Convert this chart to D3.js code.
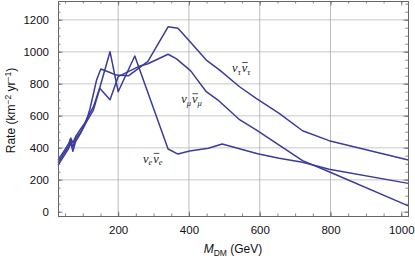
<!DOCTYPE html>
<html lang="en">
<head>
  <meta charset="UTF-8">
  <title>Rate vs M_DM</title>
  <style>
    body { margin: 0; background: #fff; }
    svg { display: block; }
  </style>
</head>
<body>
  <div id="chart"></div>
  <script src="https://d3js.org/d3.v7.min.js"></script>
  <script>
    // data
    const massE = [30, 40, 50, 60, 66, 72, 80, 95, 110, 130, 148, 177, 200, 247, 341, 369, 402, 455, 494, 594, 655, 721, 796, 1020];
    const rateE = [305, 340, 375, 410, 445, 405, 455, 500, 575, 655, 775, 1000, 750, 973, 392, 360, 379, 396, 423, 362, 334, 309, 265, 177];

    const massMu = [30, 40, 50, 60, 66, 72, 80, 95, 110, 130, 148, 177, 200, 233, 262, 284, 341, 365, 405, 449, 482, 543, 590, 721, 796, 1020];
    const rateMu = [290, 325, 360, 395, 430, 378, 440, 495, 560, 635, 771, 700, 844, 880, 911, 925, 984, 955, 880, 750, 698, 575, 511, 319, 250, 36];

    const massTau = [30, 40, 50, 60, 66, 72, 80, 95, 110, 120, 139, 151, 177, 194, 230, 284, 341, 369, 407, 449, 486, 543, 590, 655, 721, 796, 1020];
    const rateTau = [320, 355, 390, 425, 460, 430, 470, 520, 565, 640, 823, 892, 870, 854, 850, 940, 1156, 1146, 1053, 948, 886, 781, 709, 615, 506, 444, 323];

    const xTicks = [200, 400, 600, 800, 1000];
    const yTicks = [0, 200, 400, 600, 800, 1000, 1200];
    const curveLabels = ["\u03c4", "\u03bc", "e"];

    const W = 415, H = 256;
    const margin = { top: 1, right: 7, bottom: 40, left: 58 };

    const svg = d3.select("#chart").append("svg")
      .attr("width", W).attr("height", H);

    const x = d3.scaleLinear().domain([30, 1019]).range([margin.left, W - margin.right]);
    const y = d3.scaleLinear().domain([-27, 1317]).range([H - margin.bottom, margin.top]);

    const x0 = x.range()[0], x1 = x.range()[1];
    const y0 = y.range()[0], y1 = y.range()[1];

    // grid lines
    svg.append("g").selectAll("line")
      .data(yTicks.filter(d => d > 0))
      .join("line")
      .attr("x1", x0).attr("x2", x1)
      .attr("y1", d => y(d)).attr("y2", d => y(d))
      .attr("stroke", "#dadada").attr("stroke-width", 1.4);

    svg.append("g").selectAll("line")
      .data(xTicks.filter(d => d < 1000))
      .join("line")
      .attr("y1", y0).attr("y2", y1)
      .attr("x1", d => x(d)).attr("x2", d => x(d))
      .attr("stroke", "#b4b4b4").attr("stroke-width", 0.9);

    // curves
    const line = d3.line().x(d => x(d[0])).y(d => y(d[1]));
    const series = [
      d3.zip(massE, rateE),
      d3.zip(massMu, rateMu),
      d3.zip(massTau, rateTau)
    ];
    svg.append("g").selectAll("path")
      .data(series)
      .join("path")
      .attr("d", line)
      .attr("fill", "none")
      .attr("stroke", "#3b3b9c")
      .attr("stroke-width", 1.5)
      .attr("stroke-linejoin", "round");

    // frame with inward ticks on all sides
    const frame = "#666";
    const xMinor = d3.range(50, 1019, 50);
    const yMinor = d3.range(0, 1317, 50);
    const fmt = d3.format("d");

    svg.append("g")
      .attr("transform", `translate(0,${y0})`)
      .call(d3.axisBottom(x).tickValues(xMinor).tickSizeInner(-2.5).tickSizeOuter(0).tickFormat(""));
    svg.append("g")
      .attr("transform", `translate(0,${y0})`)
      .call(d3.axisBottom(x).tickValues(xTicks).tickSizeInner(-4.5).tickSizeOuter(0).tickPadding(10).tickFormat(fmt));
    svg.append("g")
      .attr("transform", `translate(0,${y1})`)
      .call(d3.axisTop(x).tickValues(xMinor).tickSizeInner(-2.5).tickSizeOuter(0).tickFormat(""));
    svg.append("g")
      .attr("transform", `translate(0,${y1})`)
      .call(d3.axisTop(x).tickValues(xTicks).tickSizeInner(-4.5).tickSizeOuter(0).tickFormat(""));

    svg.append("g")
      .attr("transform", `translate(${x0},0)`)
      .call(d3.axisLeft(y).tickValues(yMinor).tickSizeInner(-2.5).tickSizeOuter(0).tickFormat(""));
    svg.append("g")
      .attr("transform", `translate(${x0},0)`)
      .call(d3.axisLeft(y).tickValues(yTicks).tickSizeInner(-4.5).tickSizeOuter(0).tickPadding(9).tickFormat(fmt));
    svg.append("g")
      .attr("transform", `translate(${x1},0)`)
      .call(d3.axisRight(y).tickValues(yMinor).tickSizeInner(-2.5).tickSizeOuter(0).tickFormat(""));
    svg.append("g")
      .attr("transform", `translate(${x1},0)`)
      .call(d3.axisRight(y).tickValues(yTicks).tickSizeInner(-4.5).tickSizeOuter(0).tickFormat(""));

    svg.selectAll(".domain").attr("stroke", frame).attr("stroke-width", 1);
    svg.selectAll(".tick line").attr("stroke", frame).attr("stroke-width", 0.8);
    svg.selectAll(".tick text")
      .attr("fill", "#111")
      .style("font-family", "'Liberation Sans', Arial, sans-serif")
      .style("font-size", "11.5px");

    // axis titles
    const yTitle = svg.append("text")
      .attr("transform", `translate(15,${(y0 + y1) / 2 + 2}) rotate(-90)`)
      .attr("text-anchor", "middle")
      .style("font-family", "'Liberation Sans', Arial, sans-serif")
      .style("font-size", "12px")
      .attr("fill", "#111");
    yTitle.append("tspan").text("Rate (km");
    yTitle.append("tspan").attr("dy", -4).style("font-size", "8.5px").text("\u22122");
    yTitle.append("tspan").attr("dy", 4).text(" yr");
    yTitle.append("tspan").attr("dy", -4).style("font-size", "8.5px").text("\u22121");
    yTitle.append("tspan").attr("dy", 4).text(")");

    const xTitle = svg.append("text")
      .attr("x", (x0 + x1) / 2)
      .attr("y", 253)
      .attr("text-anchor", "middle")
      .style("font-family", "'Liberation Sans', Arial, sans-serif")
      .style("font-size", "12px")
      .attr("fill", "#111");
    xTitle.append("tspan").style("font-style", "italic").text("M");
    xTitle.append("tspan").attr("dy", 2.5).style("font-size", "8.5px").text("DM");
    xTitle.append("tspan").attr("dy", -2.5).text(" (GeV)");

    // curve labels: anchored at a (mass, rate) spot next to each curve
    const labelMass = [522, 378, 270];
    const labelRate = [873, 678, 305];
    curveLabels.forEach((sub, i) => {
      const t = svg.append("text")
        .attr("x", x(labelMass[i])).attr("y", y(labelRate[i]))
        .style("font-family", "'Liberation Serif', 'DejaVu Serif', serif")
        .style("font-style", "italic")
        .style("font-size", "12.5px")
        .attr("fill", "#222");
      t.append("tspan").text("\u03bd");
      t.append("tspan").attr("dy", 2.5).style("font-size", "8.5px").text(sub);
      t.append("tspan").attr("dx", 1).attr("dy", -2.5).text("\u03bd");
      t.append("tspan").attr("dy", 2.5).style("font-size", "8.5px").text(sub);
      // bar over the antineutrino
      const r = t.node().getExtentOfChar(2);
      svg.append("line")
        .attr("x1", r.x + 0.5).attr("x2", r.x + r.width + 0.5)
        .attr("y1", r.y + 1.5).attr("y2", r.y + 1.5)
        .attr("stroke", "#222").attr("stroke-width", 0.8);
    });
  </script>
</body>
</html>
